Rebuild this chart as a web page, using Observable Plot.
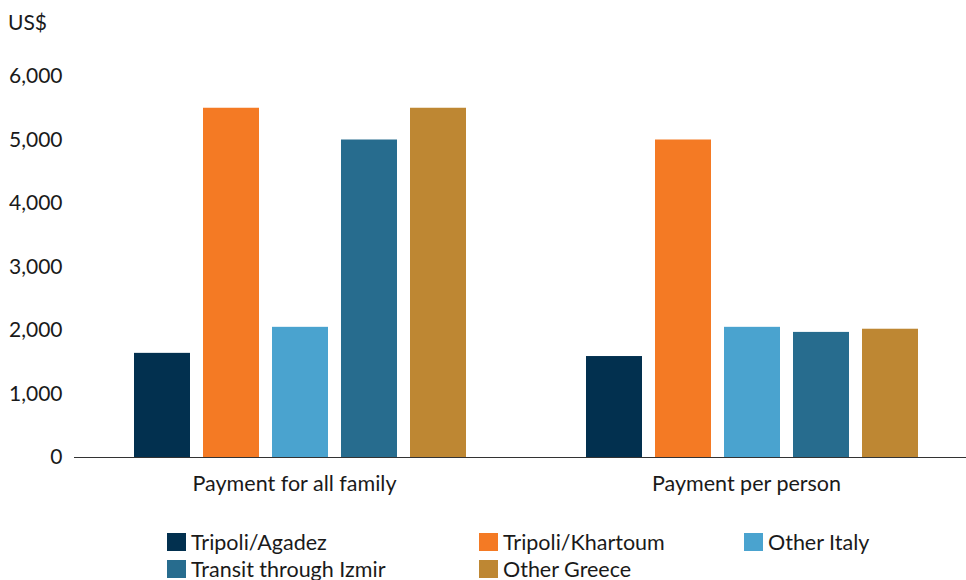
<!DOCTYPE html>
<html>
<head>
<meta charset="utf-8">
<script src="https://cdn.jsdelivr.net/npm/d3@7"></script>
<script src="https://cdn.jsdelivr.net/npm/@observablehq/plot@0.6"></script>
<style>
  html, body { margin: 0; padding: 0; background: #fff; }
  body { width: 966px; height: 580px; overflow: hidden; font-family: Lato, "Noto Sans", sans-serif; color: #1a1a1a; }
  #unit { height: 40px; box-sizing: border-box; padding: 11px 0 0 8px; font-size: 21px; line-height: 22px; }
  #legend { display: grid; grid-template-columns: 312px 265px 200px; grid-auto-rows: 27px; margin: 8px 0 0 167px; font-size: 21.5px; }
  .item { display: flex; align-items: center; white-space: nowrap; }
  .sw { width: 19px; height: 18px; margin-right: 5px; flex: none; }
</style>
</head>
<body>
<div id="unit">US$</div>
<div id="chart"></div>
<div id="legend"></div>
<script>
const groups = ["Payment for all family", "Payment per person"];
const routes = ["Tripoli/Agadez", "Tripoli/Khartoum", "Other Italy", "Transit through Izmir", "Other Greece"];
const colors = ["#02304F", "#F47A24", "#4AA3CF", "#276C8E", "#BE8733"];
const familyValues = [1640, 5500, 2050, 5000, 5500];
const personValues = [1590, 5000, 2050, 1970, 2020];
const yTicks = [0, 1000, 2000, 3000, 4000, 5000, 6000];

const data = [];
routes.forEach((r, i) => {
  data.push({group: groups[0], route: r, value: familyValues[i]});
  data.push({group: groups[1], route: r, value: personValues[i]});
});

const chart = Plot.plot({
  width: 966,
  height: 480,
  marginTop: 36,
  marginBottom: 63,
  marginLeft: 74,
  marginRight: 0,
  style: {fontFamily: "Lato, 'Noto Sans', sans-serif", fontSize: "21px", color: "#1a1a1a"},
  fx: {domain: groups, range: [73.5, 977.5], padding: 0},
  x: {domain: routes, paddingInner: 0.19, paddingOuter: 0.86},
  y: {domain: [0, 6000]},
  color: {domain: routes, range: colors},
  marks: [
    Plot.barY(data, {fx: "group", x: "route", y: "value", fill: "route"}),
    Plot.ruleY([0], {stroke: "#333", strokeWidth: 1.2}),
    Plot.axisY({ticks: yTicks, tickFormat: d3.format(","), tickSize: 0, tickPadding: 12, label: null, fontSize: 21}),
    Plot.axisX({ticks: [], label: null}),
    Plot.axisFx({anchor: "bottom", tickSize: 0, tickPadding: 18, label: null, fontSize: 21.5, dx: -6})
  ]
});
document.getElementById("chart").appendChild(chart);

const legend = document.getElementById("legend");
routes.forEach((r, i) => {
  const it = document.createElement("div");
  it.className = "item";
  const sw = document.createElement("span");
  sw.className = "sw";
  sw.style.background = colors[i];
  const t = document.createElement("span");
  t.textContent = r;
  it.appendChild(sw);
  it.appendChild(t);
  legend.appendChild(it);
});
</script>
</body>
</html>
